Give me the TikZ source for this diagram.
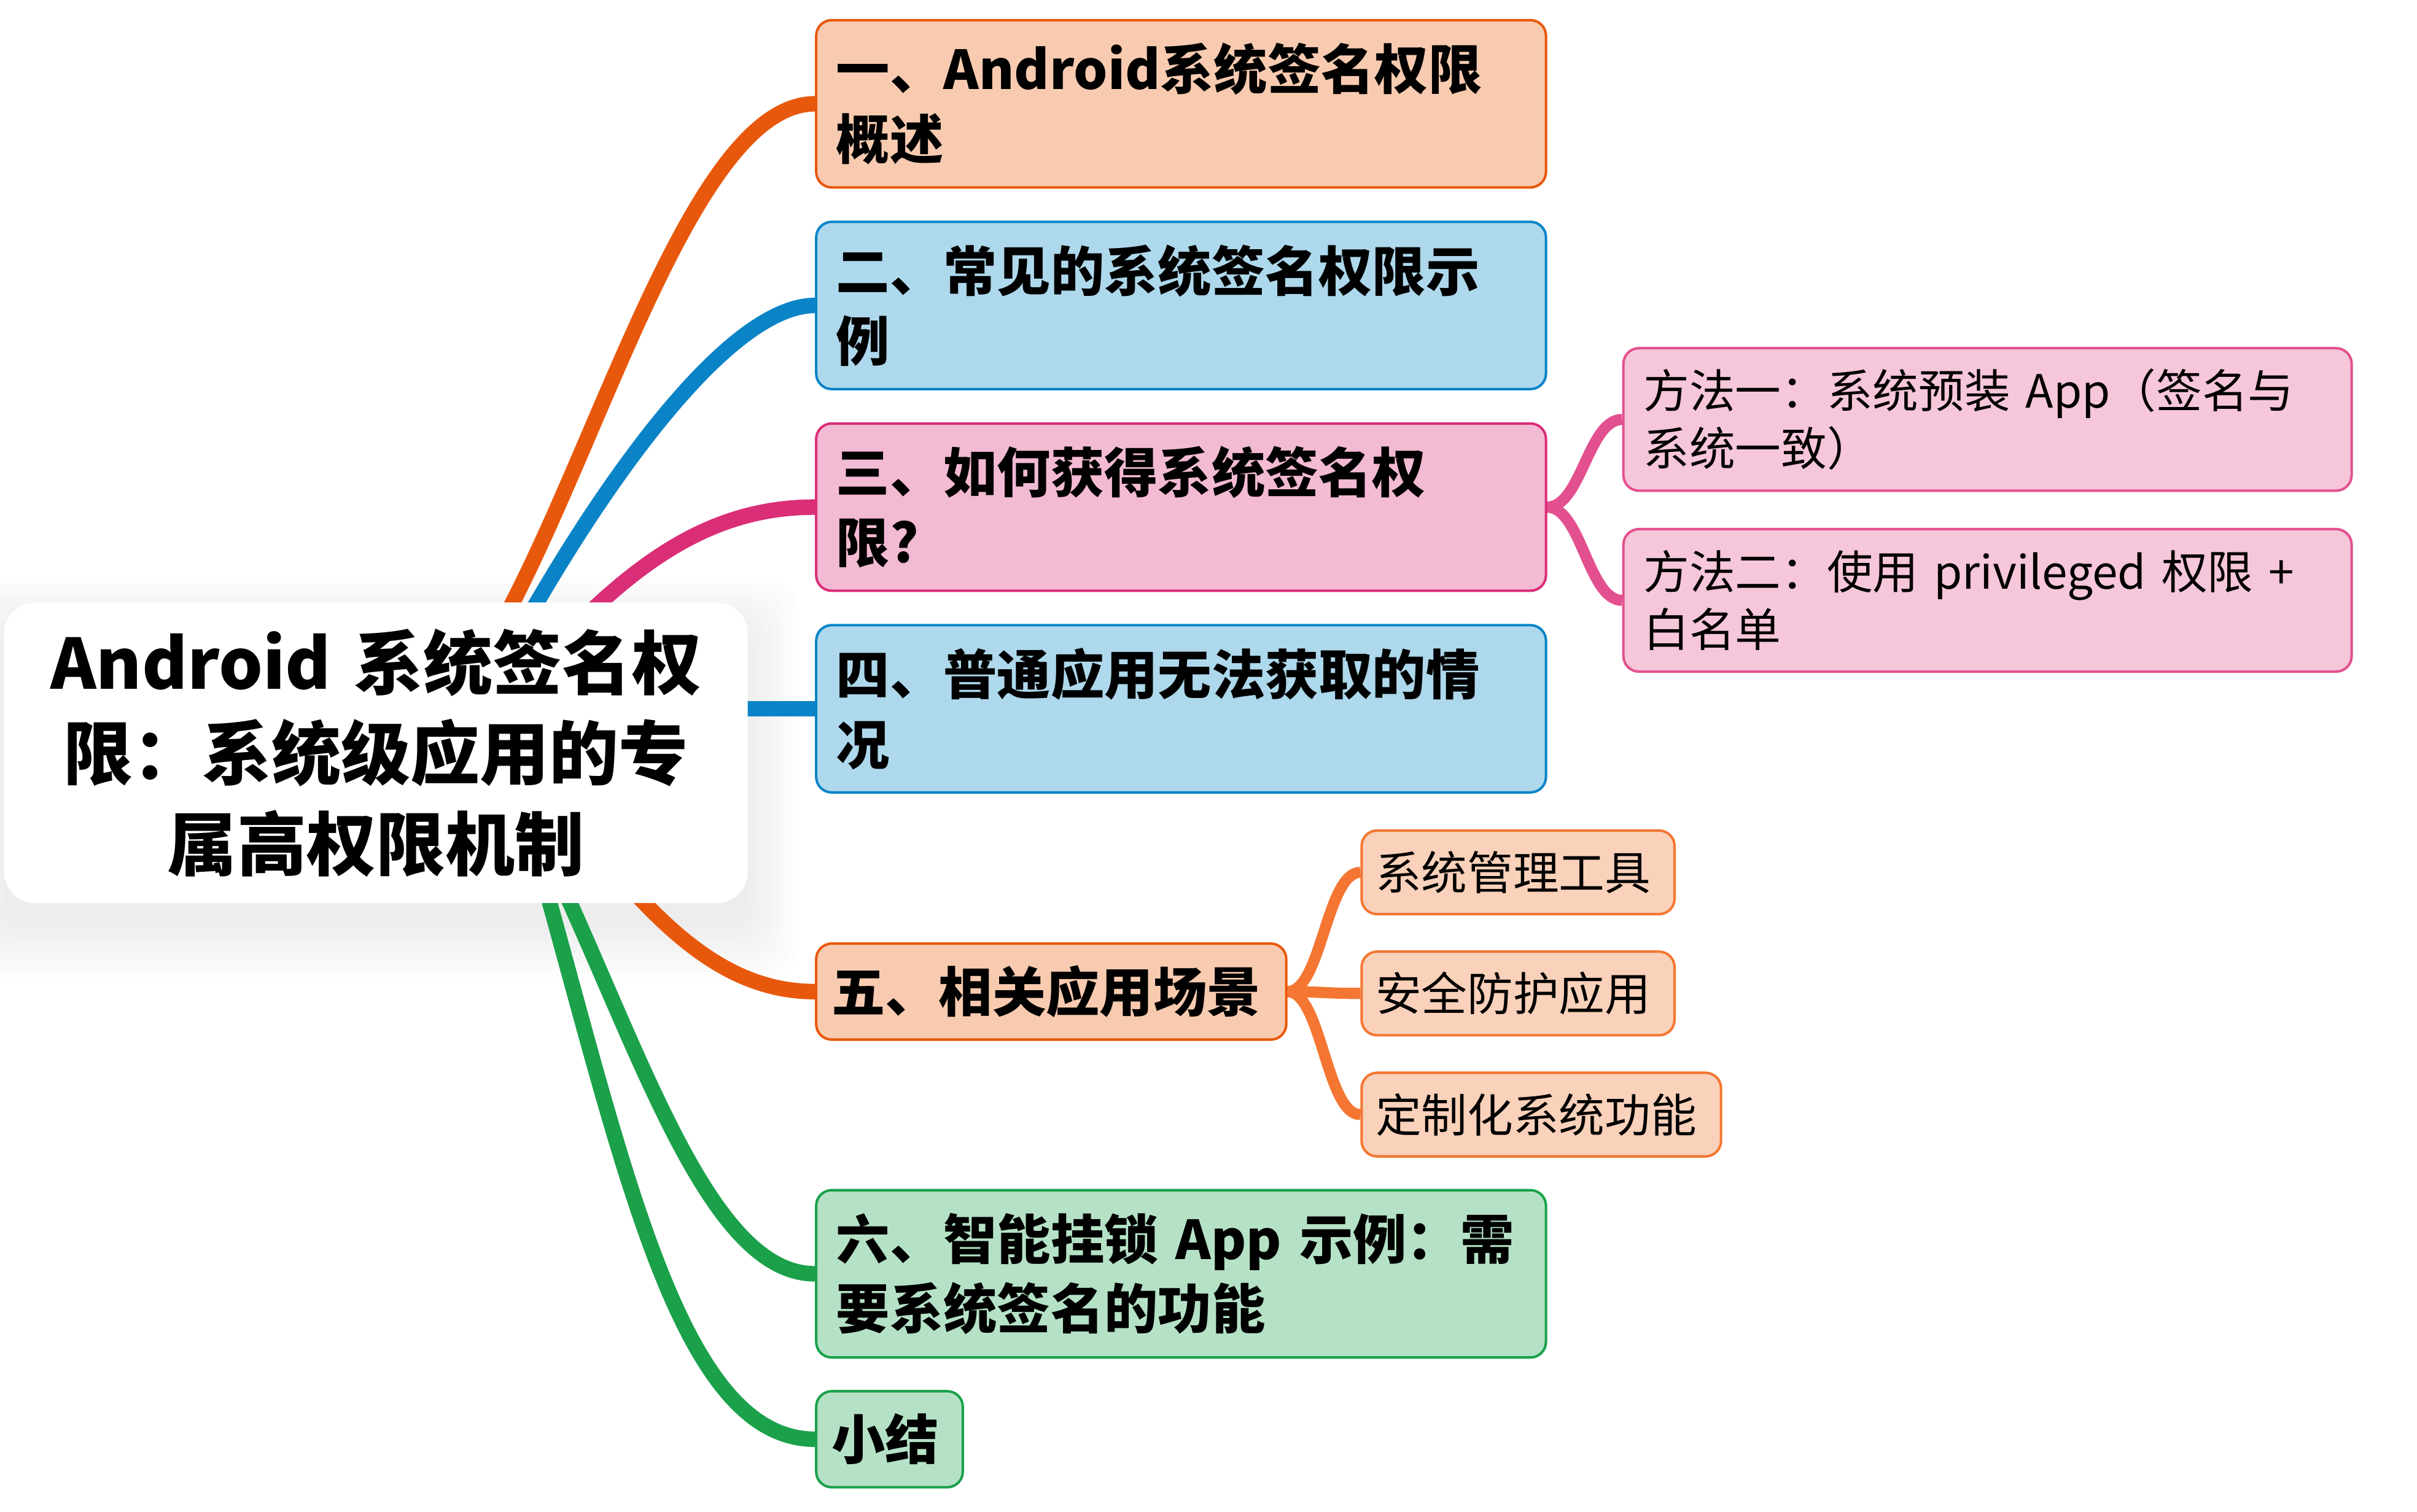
\documentclass[tikz,border=0pt]{standalone}
\usepackage{fontspec}
\setmainfont{Noto Sans CJK SC}
\usetikzlibrary{positioning, backgrounds}

\definecolor{orangefill}{RGB}{248,203,176}
\definecolor{orangeedge}{RGB}{232,88,12}
\definecolor{bluefill}{RGB}{174,216,236}
\definecolor{blueedge}{RGB}{11,132,199}
\definecolor{pinkfill}{RGB}{243,186,211}
\definecolor{pinkedge}{RGB}{218,46,120}
\definecolor{greenfill}{RGB}{181,226,198}
\definecolor{greenedge}{RGB}{26,161,74}
\definecolor{leafpinkfill}{RGB}{246,198,218}
\definecolor{leafpinkedge}{RGB}{227,80,143}
\definecolor{leaforangefill}{RGB}{250,209,186}
\definecolor{leaforangeedge}{RGB}{244,118,50}

\tikzset{
	rootbox/.append style={
		fill=white,
		rounded corners=10pt,
		align=center,
		inner sep=0pt,
		text width=230pt,
		minimum width=240pt,
		minimum height=97pt,
		font={\bfseries\fontsize{22.4}{29.2}\selectfont}
	},
	topic/.append style={
		draw,
		line width=0.8pt,
		rounded corners=5pt,
		align=left,
		inner xsep=6.5pt,
		inner ysep=3pt,
		text width=222.5pt,
		minimum height=54pt,
		font={\bfseries\fontsize{17.3}{22.5}\selectfont}
	},
	short/.append style={
		inner xsep=5pt,
		minimum height=31pt,
	},
	leaf/.append style={
		draw,
		line width=0.8pt,
		rounded corners=5pt,
		align=left,
		inner ysep=2pt,
		font={\fontsize{14.8}{18.75}\selectfont}
	},
	orangebox/.style={fill=orangefill, draw=orangeedge},
	bluebox/.style={fill=bluefill, draw=blueedge},
	pinkbox/.style={fill=pinkfill, draw=pinkedge},
	greenbox/.style={fill=greenfill, draw=greenedge},
	pinkleaf/.style={leaf, fill=leafpinkfill, draw=leafpinkedge, inner xsep=6.5pt, text width=222pt, minimum height=46pt},
	orangeleaf/.style={leaf, fill=leaforangefill, draw=leaforangeedge, inner xsep=4.5pt, text width=92pt, minimum height=27pt},
	branch/.append style={line width=5pt},
	twig/.append style={line width=3.6pt}
}

\begin{document}
\begin{tikzpicture}[x=1pt, y=-1pt]
\useasboundingbox (0,0) rectangle (780,488);

\node(root)[rootbox] at (121.3,243) {Android 系统签名权\\限：系统级应用的专\\属高权限机制};

% main topics
\node(n1)[topic, orangebox, anchor=west] at (263,33.5) {一、Android系统签名权限\\概述};
\node(n2)[topic, bluebox, below = 10.3pt of n1] {二、常见的系统签名权限示\\例};
\node(n3)[topic, pinkbox, below = 10.3pt of n2] {三、如何获得系统签名权\\限?};
\node(n4)[topic, bluebox, below = 10.3pt of n3] {四、普通应用无法获取的情\\况};
\node(n5)[topic, short, orangebox, text width=141.7pt, below = 48pt of n4.south west, anchor=north west] {五、相关应用场景};
\node(n6)[topic, greenbox, below = 47.8pt of n5.south west, anchor=north west] {六、智能挂锁 App 示例：需\\要系统签名的功能};
\node(n7)[topic, short, greenbox, text width=37.3pt, below = 10.1pt of n6.south west, anchor=north west] {小结};

% subtopics
\node(m1)[pinkleaf, anchor=west] at (523.5,135.4) {方法一：系统预装 App（签名与\\系统一致）};
\node(m2)[pinkleaf, below = 11.6pt of m1] {方法二：使用 privileged 权限 +\\白名单};

\node(s1)[orangeleaf, anchor=west] at (439,281.6) {系统管理工具};
\node(s2)[orangeleaf, below = 11.3pt of s1] {安全防护应用};
\node(s3)[orangeleaf, text width=107pt, below = 11.3pt of s2.south west, anchor=north west] {定制化系统功能};

\begin{pgfonlayer}{background}
% soft shadow of the root
\foreach \s in {0,2,...,16}
	\fill[black, fill opacity=0.008, rounded corners=10pt]
		([xshift={-\s*1pt}, yshift={(\s-8)*1pt}]root.north west) rectangle ([xshift={\s*1pt}, yshift={(-\s-8)*1pt}]root.south east);

\draw[branch, draw=orangeedge] ([xshift=40pt, yshift=-8pt]root.north) .. controls +(33,-60) and +(-39,0) .. (n1.west);
\draw[branch, draw=blueedge] ([xshift=47.7pt, yshift=-7.6pt]root.north) .. controls +(26,-46) and +(-28,0) .. (n2.west);
\draw[branch, draw=pinkedge] ([xshift=64.7pt, yshift=-7.6pt]root.north) .. controls +(26,-26) and +(-28,0) .. (n3.west);
\draw[branch, draw=blueedge] (n4.west -| root.center) -- (n4.west);
\draw[branch, draw=orangeedge] ([xshift=82.2pt, yshift=5pt]root.south) .. controls +(19,21) and +(-22.5,0) .. (n5.west);
\draw[branch, draw=greenedge] ([xshift=60.5pt, yshift=5pt]root.south) .. controls +(27.3,60) and +(-32.5,0) .. (n6.west);
\draw[branch, draw=greenedge] ([xshift=54.8pt, yshift=5pt]root.south) .. controls +(26.4,95) and +(-42.5,0) .. (n7.west);

\draw[twig, draw=leafpinkedge] (n3.east) .. controls +(11,0) and +(-11,0) .. (m1.west);
\draw[twig, draw=leafpinkedge] (n3.east) .. controls +(11,0) and +(-11,0) .. (m2.west);
\draw[twig, draw=leaforangeedge] (n5.east) .. controls +(11,0) and +(-11,0) .. (s1.west);
\draw[twig, draw=leaforangeedge] (n5.east) .. controls +(11,0) and +(-11,0) .. (s2.west);
\draw[twig, draw=leaforangeedge] (n5.east) .. controls +(11,0) and +(-11,0) .. (s3.west);
\end{pgfonlayer}
\end{tikzpicture}
\end{document}
